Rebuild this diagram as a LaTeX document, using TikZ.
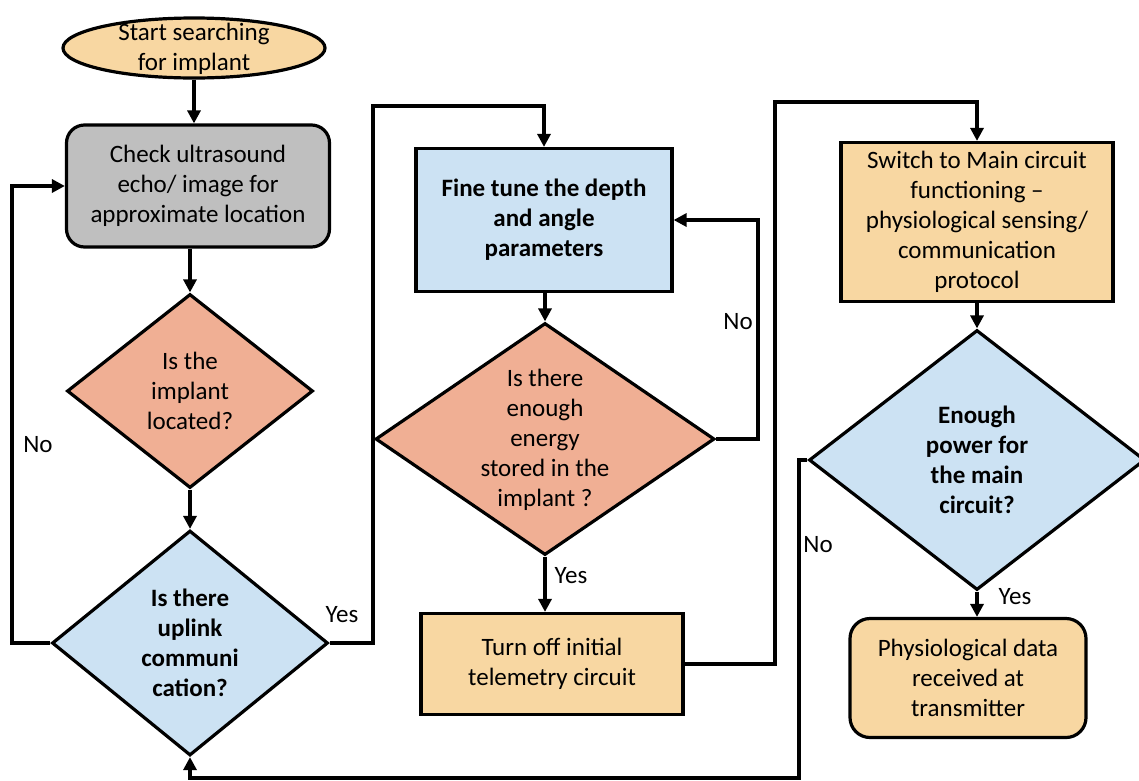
\documentclass[tikz,border=0pt]{standalone}
\usepackage{fontspec}
\setmainfont{Carlito}
\usetikzlibrary{shapes.geometric,arrows.meta}
\definecolor{cOr}{HTML}{F8D7A2}
\definecolor{cSal}{HTML}{F0AF94}
\definecolor{cBl}{HTML}{CCE2F3}
\definecolor{cGr}{HTML}{BFBFBF}
\begin{document}
\begin{tikzpicture}[x=1pt,y=-1pt,
  line width=3.2pt,
  base/.style={draw=black,line width=3.2pt,inner sep=0pt},
  boxsty/.style={base,rectangle},
  rbox/.style={base,rectangle,rounded corners=18pt},
  dia/.style={base,diamond},
  txt/.style={align=center,font=\fontsize{25}{30}\selectfont,inner sep=0pt},
  btxt/.style={txt,font=\fontsize{25}{30}\selectfont\bfseries},
  lab/.style={font=\fontsize{25}{30}\selectfont,inner sep=0pt},
  arr/.style={-{Triangle[length=13pt,width=13pt]},line width=3.2pt}]
\useasboundingbox (0,0) rectangle (1139,780);

% start
\node[base,ellipse,fill=cOr,minimum width=262,minimum height=60] (start) at (194,48) {};
\node[txt] (startt) at (194,49) {Start searching\\for implant};

% check box
\node[rbox,fill=cGr,minimum width=263,minimum height=122] (check) at (198,186) {};
\node[txt] (checkt) at (check) {Check ultrasound\\echo/ image for\\approximate location};

% diamond 1
\node[dia,fill=cSal,minimum width=246,minimum height=194] (d1) at (190,391) {};
\node[txt] (d1t) at (d1) {Is the\\implant\\located?};

% diamond 2
\node[dia,fill=cBl,minimum width=276,minimum height=225] (d2) at (190,643) {};
\node[btxt] (d2t) at (d2) {Is there\\uplink\\communi\\cation?};

% fine tune
\node[boxsty,fill=cBl,minimum width=256,minimum height=143] (fine) at (544,220) {};
\node[btxt] (finet) at (fine) {Fine tune the depth\\and angle\\parameters};

% diamond 3
\node[dia,fill=cSal,minimum width=339,minimum height=232] (d3) at (545,439) {};
\node[txt] (d3t) at (545,440) {Is there\\enough\\energy\\stored in the\\implant ?};

% turn off
\node[boxsty,fill=cOr,minimum width=262,minimum height=101] (turn) at (552,664) {};
\node[txt] (turnt) at (turn) {Turn off initial\\telemetry circuit};

% switch
\node[boxsty,fill=cOr,minimum width=272,minimum height=159] (switch) at (977,222) {};
\node[txt] (switcht) at (switch) {Switch to Main circuit\\functioning --\\physiological sensing/\\communication\\protocol};

% diamond 4
\node[dia,fill=cBl,minimum width=336,minimum height=260] (d4) at (977,460) {};
\node[btxt] (d4t) at (d4) {Enough\\power for\\the main\\circuit?};

% physiological
\node[rbox,rounded corners=20pt,fill=cOr,minimum width=236,minimum height=119] (phys) at (968,678) {};
\node[txt] (physt) at (phys) {Physiological data\\received at\\transmitter};

% coordinates
\coordinate (c1) at (373,106);
\coordinate (c2) at (12,186);
\coordinate (c3) at (758,220);
\coordinate (c4) at (775,102);
\coordinate (c5) at (799,778);

% connectors
\draw[arr] (start) -- (start |- check.north);
\draw[arr] (check.south -| d1.north) -- (d1.north);
\draw[arr] (d1.south) -- (d2.north);
\draw[arr] (d2.west) -| (c2) -- (check.west);
\draw[arr] (d2.east) -| (c1) -| (fine.north);
\draw[arr] (fine.south -| d3.north) -- (d3.north);
\draw[arr] (d3.east) -| (c3) -- (fine.east |- c3);
\draw[arr] (d3.south) -- (d3.south |- turn.north);
\draw[arr] (turn.east) -| (c4) -| (switch.north);
\draw[arr] (switch.south) -- (d4.north);
\draw[arr] (d4.south) -- (d4.south |- phys.north);
\draw[arr] (d4.west) -| (c5) -| (d2.south);

% labels
\node[lab] (lno1) at (38,445) {No};
\node[lab] (lyes1) at (342,615) {Yes};
\node[lab] (lno2) at (738,322) {No};
\node[lab] (lyes2) at (571,576) {Yes};
\node[lab] (lyes3) at (1015,597) {Yes};
\node[lab] (lno3) at (818,545) {No};
\end{tikzpicture}
\end{document}
